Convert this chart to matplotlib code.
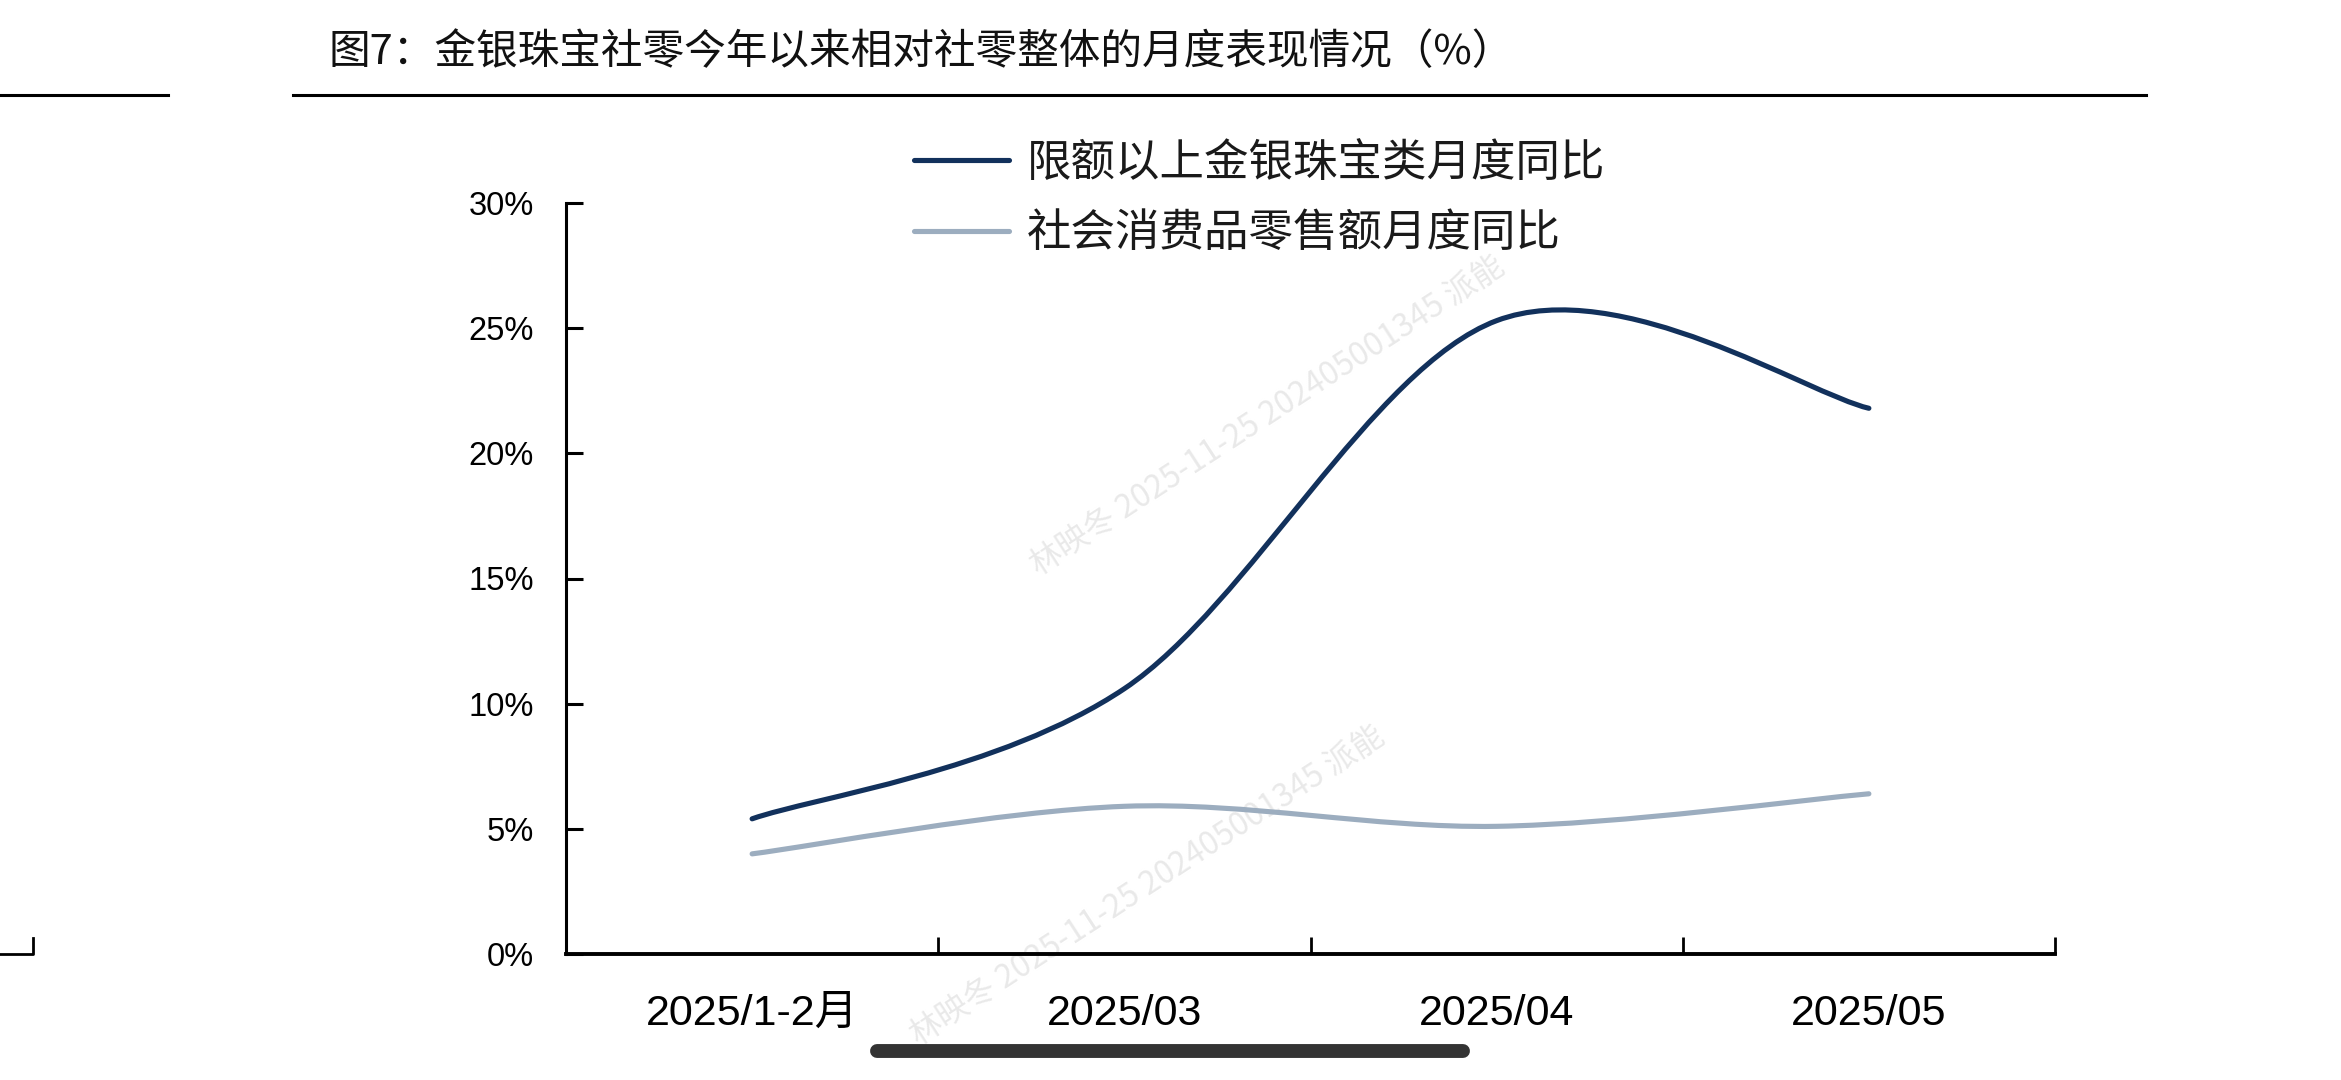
import numpy as np
import matplotlib
matplotlib.use("Agg")
import matplotlib.pyplot as plt
from matplotlib.path import Path
from matplotlib.patches import PathPatch
from matplotlib.lines import Line2D
from matplotlib import font_manager

# ---------------- data ----------------
categories = ["2025/1-2月", "2025/03", "2025/04", "2025/05"]
jewelry_yoy = [5.4, 10.6, 25.3, 21.8]
retail_yoy = [4.0, 5.9, 5.1, 6.4]
series_names = ["限额以上金银珠宝类月度同比", "社会消费品零售额月度同比"]
y_ticks = [0, 5, 10, 15, 20, 25, 30]
title_text = "图7：金银珠宝社零今年以来相对社零整体的月度表现情况（%）"
watermark_text = "林映冬 2025-11-25 202405001345 派能"

# ---------------- style ----------------
W, H = 2341, 1080
DARK = "#12315c"
LIGHT = "#9cadbf"
CJK = ["Noto Sans CJK SC", "DejaVu Sans"]
available = {f.name for f in font_manager.fontManager.ttflist}
narrow = "Liberation Sans Narrow" in available
LAT = (["Liberation Sans Narrow"] if narrow else []) + ["Liberation Sans", "Noto Sans CJK SC", "DejaVu Sans"]
YT_SIZE = 26 if narrow else 23.5
XT_SIZE = 33 if narrow else 31
plt.rcParams["font.family"] = CJK


def smooth_path(xs, ys):
    """Excel-like smoothed line as cubic Bezier segments through the data points."""
    pts = np.column_stack([xs, ys]).astype(float)
    n = len(pts)
    verts = [pts[0]]
    codes = [Path.MOVETO]
    for i in range(n - 1):
        p0 = pts[i - 1] if i > 0 else pts[i]
        p1 = pts[i]
        p2 = pts[i + 1]
        p3 = pts[i + 2] if i + 2 < n else pts[i + 1]
        c1 = p1 + (p2 - p0) / 6.0
        c2 = p2 - (p3 - p1) / 6.0
        verts += [c1, c2, p2]
        codes += [Path.CURVE4] * 3
    return Path(verts, codes)


fig = plt.figure(figsize=(W / 100, H / 100), dpi=100)
fig.patch.set_facecolor("white")

# faint page watermarks (under everything)
for (wx, wy) in [(1038, 575), (918, 1045)]:
    fig.text(wx / W, 1 - wy / H, watermark_text, fontsize=23, color="#e9e9e9",
             rotation=33, rotation_mode="anchor", ha="left", va="baseline",
             family=["Noto Sans CJK SC", "DejaVu Sans"], zorder=-5)

ax = fig.add_axes([566 / W, 1 - 954 / H, (2055 - 566) / W, (954 - 203) / H])
ax.patch.set_visible(False)
x = np.arange(len(categories))

for vals, color in [(jewelry_yoy, DARK), (retail_yoy, LIGHT)]:
    patch = PathPatch(smooth_path(x, vals), facecolor="none", edgecolor=color,
                      lw=3.7, capstyle="round", joinstyle="round")
    ax.add_patch(patch)

ax.set_xlim(-0.5, len(categories) - 0.5)
ax.set_ylim(0, 30)

for s in ["top", "right"]:
    ax.spines[s].set_visible(False)
ax.spines["left"].set_linewidth(2.2)
ax.spines["bottom"].set_linewidth(2.8)
ax.spines["left"].set_color("black")
ax.spines["bottom"].set_color("black")

ax.set_yticks(y_ticks)
ax.set_yticklabels([f"{v}%" for v in y_ticks], family=LAT, fontsize=YT_SIZE)
ax.tick_params(axis="y", direction="in", length=12, width=2.2, pad=23, colors="black")

ax.set_xticks(np.arange(len(categories) + 1) - 0.5)
ax.set_xticklabels([])
ax.set_xticks(x, minor=True)
ax.set_xticklabels(categories, minor=True, family=LAT, fontsize=XT_SIZE)
ax.tick_params(axis="x", which="major", direction="in", length=12, width=2.0)
ax.tick_params(axis="x", which="minor", length=0, pad=29, colors="black")

handles = [Line2D([], [], color=DARK, lw=3.7, solid_capstyle="round"),
           Line2D([], [], color=LIGHT, lw=3.7, solid_capstyle="round")]
leg = fig.legend(handles, series_names, loc="upper left",
                 bbox_to_anchor=(914 / W, 1 - 140 / H), frameon=False,
                 fontsize=32, handlelength=2.14, handletextpad=0.39,
                 labelspacing=0.55, borderpad=0, borderaxespad=0)
for t in leg.get_texts():
    t.set_color("#1a1a1a")

# title and decorative rules of the report page
fig.text(329 / W, 1 - 53 / H, title_text, fontsize=30, color="#111111",
         va="center", ha="left", family=CJK)
fig.add_artist(Line2D([0, 168 / W], [1 - 95 / H] * 2, color="black", lw=2.2,
                      transform=fig.transFigure))
fig.add_artist(Line2D([293 / W, 2146 / W], [1 - 95 / H] * 2, color="black", lw=2.2,
                      transform=fig.transFigure))
# fragment of neighbouring chart axis at left edge
fig.add_artist(Line2D([0, 33 / W, 33 / W], [1 - 954 / H, 1 - 954 / H, 1 - 938 / H],
                      color="black", lw=2.0, transform=fig.transFigure))
# scroll indicator
fig.add_artist(Line2D([877 / W, 1463 / W], [1 - 1051 / H] * 2, color="#333333", lw=10,
                      solid_capstyle="round", transform=fig.transFigure))

fig.savefig("out.png", dpi=100, facecolor="white")
